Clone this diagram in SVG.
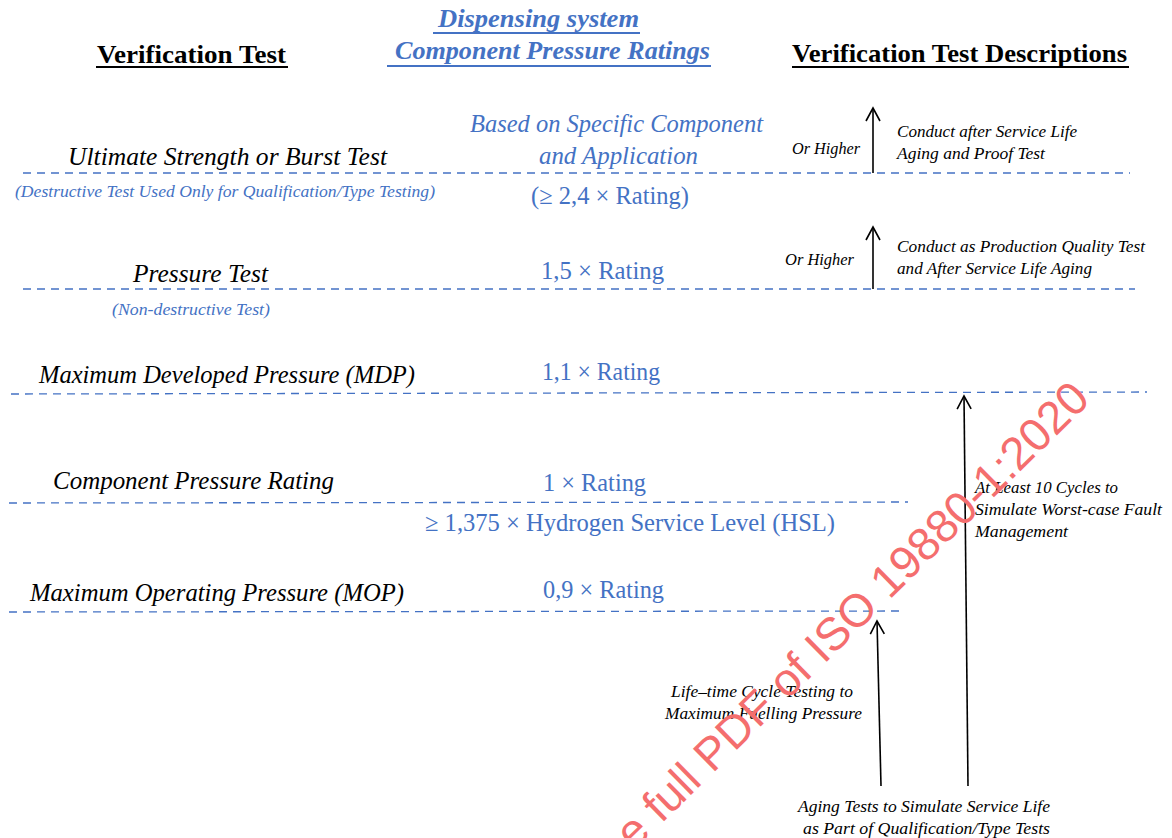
<svg xmlns="http://www.w3.org/2000/svg" width="1172" height="838" viewBox="0 0 1172 838">
  <defs>
    <style>
      text { font-family: "Liberation Serif", "DejaVu Serif", serif; }
      .hdr { font-weight: bold; font-size: 26px; fill: #000; }
      .hdr-blue { font-weight: bold; font-style: italic; font-size: 25px; fill: #4472C4; }
      .ul { stroke: #000; stroke-width: 2; }
      .ul-blue { stroke: #4472C4; stroke-width: 2; }
      .lbl { font-style: italic; font-size: 26px; fill: #000; }
      .sub { font-style: italic; font-size: 16.5px; fill: #4472C4; }
      .val { font-size: 25px; fill: #4472C4; }
      .val-it { font-style: italic; font-size: 25px; fill: #4472C4; }
      .note { font-style: italic; font-size: 17.5px; fill: #000; }
      .level { stroke: #4472C4; stroke-width: 1.3; stroke-dasharray: 8 6; fill: none; }
      .arrow { stroke: #000; stroke-width: 1.6; fill: none; marker-end: url(#openHead); }
      .wm { font-family: "Liberation Sans", Arial, sans-serif; font-size: 46px; fill: #F46E6E; }
    </style>
    <marker id="openHead" markerUnits="userSpaceOnUse" markerWidth="20" markerHeight="20" orient="auto" overflow="visible" refX="0" refY="0">
      <path d="M-13,-7 L0,0 L-13,7" fill="none" stroke="#000" stroke-width="1.6"/>
    </marker>
  </defs>

  <rect width="1172" height="838" fill="#fff"/>

  <!-- column headings -->
  <g id="heading-tests">
    <text class="hdr" x="97" y="63" textLength="189" lengthAdjust="spacingAndGlyphs">Verification Test</text>
    <line class="ul" x1="96" y1="67" x2="288" y2="67"/>
  </g>
  <g id="heading-ratings">
    <text class="hdr-blue" x="438" y="27" textLength="201" lengthAdjust="spacingAndGlyphs">Dispensing system</text>
    <line class="ul-blue" x1="433" y1="33" x2="640" y2="33"/>
    <text class="hdr-blue" x="395" y="59" textLength="315" lengthAdjust="spacingAndGlyphs">Component Pressure Ratings</text>
    <line class="ul-blue" x1="387" y1="66" x2="711" y2="66"/>
  </g>
  <g id="heading-descriptions">
    <text class="hdr" x="792" y="62" textLength="335" lengthAdjust="spacingAndGlyphs">Verification Test Descriptions</text>
    <line class="ul" x1="792" y1="67" x2="1129" y2="67"/>
  </g>

  <!-- pressure levels -->
  <g id="levels">
    <line class="level" x1="23" y1="173" x2="1130" y2="173"/>
    <line class="level" x1="23" y1="289" x2="1135" y2="289"/>
    <line class="level" x1="11" y1="394" x2="1147" y2="392"/>
    <line class="level" x1="9" y1="503" x2="908" y2="502"/>
    <line class="level" x1="9" y1="612" x2="903" y2="611"/>
  </g>

  <!-- level 1: burst -->
  <g id="burst-test">
    <text class="lbl" x="68" y="165" textLength="319" lengthAdjust="spacingAndGlyphs">Ultimate Strength or Burst Test</text>
    <text class="sub" x="15" y="197" textLength="420" lengthAdjust="spacingAndGlyphs">(Destructive Test Used Only for Qualification/Type Testing)</text>
    <text class="val-it" x="470" y="132" textLength="293" lengthAdjust="spacingAndGlyphs">Based on Specific Component</text>
    <text class="val-it" x="539" y="164" textLength="159" lengthAdjust="spacingAndGlyphs">and Application</text>
    <text class="val" x="531" y="204" textLength="158" lengthAdjust="spacingAndGlyphs">(≥ 2,4 × Rating)</text>
  </g>

  <!-- level 2: pressure test -->
  <g id="pressure-test">
    <text class="lbl" x="133" y="282" textLength="135" lengthAdjust="spacingAndGlyphs">Pressure Test</text>
    <text class="sub" x="112" y="315" textLength="158" lengthAdjust="spacingAndGlyphs">(Non-destructive Test)</text>
    <text class="val" x="541" y="279" textLength="123" lengthAdjust="spacingAndGlyphs">1,5 × Rating</text>
  </g>

  <!-- level 3: MDP -->
  <g id="mdp">
    <text class="lbl" x="39" y="383" textLength="376" lengthAdjust="spacingAndGlyphs">Maximum Developed Pressure (MDP)</text>
    <text class="val" x="542" y="380" textLength="118" lengthAdjust="spacingAndGlyphs">1,1 × Rating</text>
  </g>

  <!-- level 4: rating -->
  <g id="component-rating">
    <text class="lbl" x="53" y="489" textLength="281" lengthAdjust="spacingAndGlyphs">Component Pressure Rating</text>
    <text class="val" x="543" y="491" textLength="103" lengthAdjust="spacingAndGlyphs">1 × Rating</text>
    <text class="val" x="425" y="531" textLength="410" lengthAdjust="spacingAndGlyphs">≥ 1,375 × Hydrogen Service Level (HSL)</text>
  </g>

  <!-- level 5: MOP -->
  <g id="mop">
    <text class="lbl" x="30" y="601" textLength="374" lengthAdjust="spacingAndGlyphs">Maximum Operating Pressure (MOP)</text>
    <text class="val" x="543" y="598" textLength="121" lengthAdjust="spacingAndGlyphs">0,9 × Rating</text>
  </g>

  <!-- test descriptions -->
  <g id="desc-burst">
    <text class="note" x="792" y="154" textLength="68" lengthAdjust="spacingAndGlyphs">Or Higher</text>
    <text class="note" x="897" y="137" textLength="180" lengthAdjust="spacingAndGlyphs">Conduct after Service Life</text>
    <text class="note" x="897" y="159" textLength="148" lengthAdjust="spacingAndGlyphs">Aging and Proof Test</text>
  </g>
  <g id="desc-pressure">
    <text class="note" x="785" y="265" textLength="69" lengthAdjust="spacingAndGlyphs">Or Higher</text>
    <text class="note" x="897" y="252" textLength="248" lengthAdjust="spacingAndGlyphs">Conduct as Production Quality Test</text>
    <text class="note" x="897" y="274" textLength="195" lengthAdjust="spacingAndGlyphs">and After Service Life Aging</text>
  </g>
  <g id="desc-fault">
    <text class="note" x="975" y="493" textLength="143" lengthAdjust="spacingAndGlyphs">At Least 10 Cycles to</text>
    <text class="note" x="975" y="515" textLength="187" lengthAdjust="spacingAndGlyphs">Simulate Worst-case Fault</text>
    <text class="note" x="975" y="537" textLength="93" lengthAdjust="spacingAndGlyphs">Management</text>
  </g>
  <g id="desc-lifetime">
    <text class="note" x="671" y="697" textLength="182" lengthAdjust="spacingAndGlyphs">Life–time Cycle Testing to</text>
    <text class="note" x="665" y="719" textLength="197" lengthAdjust="spacingAndGlyphs">Maximum Fuelling Pressure</text>
  </g>
  <g id="desc-aging">
    <text class="note" x="798" y="812" textLength="252" lengthAdjust="spacingAndGlyphs">Aging Tests to Simulate Service Life</text>
    <text class="note" x="803" y="834" textLength="247" lengthAdjust="spacingAndGlyphs">as Part of Qualification/Type Tests</text>
  </g>

  <!-- connectors -->
  <g id="connectors">
    <line class="arrow" x1="873" y1="173" x2="873" y2="108"/>
    <line class="arrow" x1="873" y1="289" x2="873" y2="227"/>
    <line class="arrow" x1="968" y1="786" x2="964" y2="396"/>
    <line class="arrow" x1="881" y1="786" x2="877" y2="621"/>
  </g>

  <!-- stamp -->
  <text class="wm" transform="translate(634,851) rotate(-44.5)">e full PDF of ISO 19880-1:2020</text>
</svg>
